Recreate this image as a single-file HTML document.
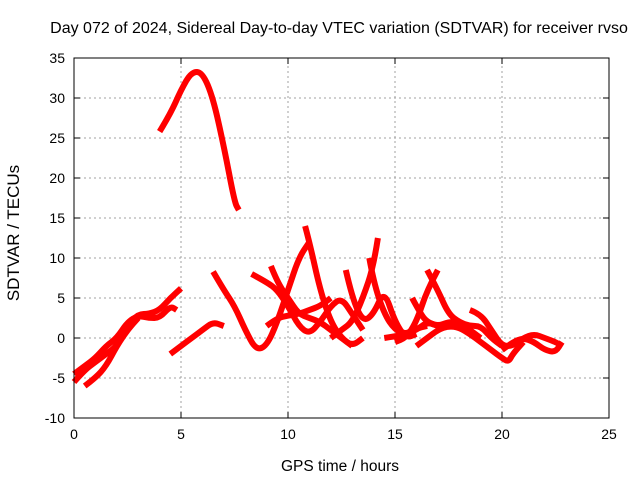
<!DOCTYPE html>
<html><head><meta charset="utf-8"><style>
body{margin:0;background:#fff;}
svg{display:block;font-family:"Liberation Sans",sans-serif;}
</style></head><body>
<svg id="chart" width="640" height="480">
<text x="339" y="33" font-size="16" text-anchor="middle" fill="#000">Day 072 of 2024, Sidereal Day-to-day VTEC variation (SDTVAR) for receiver rvso</text>
<text x="340" y="471" font-size="15.5" text-anchor="middle">GPS time / hours</text>
<text transform="translate(19,233) rotate(-90)" font-size="17" text-anchor="middle">SDTVAR / TECUs</text>
<g id="grid"></g><g id="ticks"></g><g id="series"></g>
<rect x="74" y="58" width="535" height="360" fill="none" stroke="#000" stroke-width="1"/>
</svg>
<script>
const xTicks=[0,5,10,15,20,25];
const yTicks=[-10,-5,0,5,10,15,20,25,30,35];
const track1x=[4,4.5,5,5.5,6,6.5,7,7.5,7.7];
const track1y=[25.8,28,31,33.3,33.2,30,24,17,16];
const track2x=[0,0.5,1,1.5,2,2.5,3,3.5,4,4.5,5];
const track2y=[-5.5,-4,-3,-2,-1,1.5,3,3,3.5,5,6.2];
const track3x=[0,0.5,1,1.5,2,2.5,3,3.5,4,4.5,4.8];
const track3y=[-4.5,-3.5,-2.5,-1,0,2,2.8,2.5,2.5,4,3.5];
const track4x=[0.5,1,1.5,2,2.5,3];
const track4y=[-6,-5,-3.5,-1,1,2.5];
const track5x=[4.5,5,5.5,6,6.5,7];
const track5y=[-2,-1,0,1,2,1.5];
const track6x=[6.5,7,7.5,8,8.5,9,9.5,10,10.5,11];
const track6y=[8.3,6,4,1,-1.5,-1,2,6,10,12];
const track7x=[8.3,9,9.5,10,10.5,11,11.5,12,12.5,13,13.5];
const track7y=[8,7,6,4,1.5,0.5,2,4,5,3,1];
const track8x=[9.2,9.5,10,10.5,11,11.5,12,12.5,13];
const track8y=[9,7,5,3,2.5,2,1,0,-1];
const track9x=[9,9.5,10,10.5,11,11.5,12];
const track9y=[1.5,2.5,2.8,3,3.5,4,5];
const track10x=[10.8,11,11.5,12,12.5,13,13.5];
const track10y=[14,12,6,2,0,-1,0];
const track11x=[12.7,13,13.5,14,14.5,15,15.5,16];
const track11y=[8.5,5,2,3,6,2,0,0.5];
const track12x=[14.2,14,13.5,13,12.5,12];
const track12y=[12.5,9,5,2,1,0];
const track13x=[13.8,14,14.5,15,15.5,16,16.5,17];
const track13y=[10,7,3,1,0.5,1,2,1.5];
const track14x=[16.5,17,17.5,18,18.5,19,19.5,20];
const track14y=[8.5,6,3,2,1.5,1.5,0,-1];
const track15x=[17,16.5,16,15.5,15];
const track15y=[8.5,6,2,0,-0.5];
const track16x=[15.8,16.2,16.5,17,17.5,18,18.5,19];
const track16y=[5,3,2,1.5,2,2,1,0];
const track17x=[16,16.5,17,17.5,18,18.5,19,19.5,20,20.3,20.5,21];
const track17y=[-1,0,1,1.5,1.3,0.5,-0.5,-1.5,-2.5,-3,-2,-0.5];
const track18x=[18.5,19,19.5,20,20.5,21,21.5,22,22.5,22.8];
const track18y=[3.5,3,1,-1,-1,0,0.5,0,-0.5,-1];
const track19x=[20,20.5,21,21.5,22,22.5,22.8];
const track19y=[-1.5,-0.5,0,-0.5,-1.5,-1.8,-0.5];
const track20x=[14.5,15,15.5,16,16.5];
const track20y=[0,0.2,0.5,1.2,1.5];
const tracksX=[track1x,track2x,track3x,track4x,track5x,track6x,track7x,track8x,track9x,track10x,track11x,track12x,track13x,track14x,track15x,track16x,track17x,track18x,track19x,track20x];
const tracksY=[track1y,track2y,track3y,track4y,track5y,track6y,track7y,track8y,track9y,track10y,track11y,track12y,track13y,track14y,track15y,track16y,track17y,track18y,track19y,track20y];

const NS="http://www.w3.org/2000/svg";
const X0=74,X1=609,Y0=418,Y1=58;
function sx(v){return X0+(v-0)/(25-0)*(X1-X0);}
function sy(v){return Y0-(v+10)/(45)*(Y0-Y1);}
function mk(t,a,p){const e=document.createElementNS(NS,t);for(const k in a)e.setAttribute(k,a[k]);p.appendChild(e);return e;}
const grid=document.getElementById('grid'),ticks=document.getElementById('ticks'),series=document.getElementById('series');
xTicks.forEach(t=>{
  const x=sx(t);
  if(t>0&&t<25){const g=mk('line',{x1:x,x2:x,y1:Y0,y2:Y1,stroke:'#a0a0a0','stroke-dasharray':'2,3'},grid);
  
  }
  mk('line',{x1:x,x2:x,y1:Y0,y2:Y0-6,stroke:'#000'},ticks);
  mk('line',{x1:x,x2:x,y1:Y1,y2:Y1+6,stroke:'#000'},ticks);
  const l=mk('text',{x:x,y:Y0+21,'font-size':14,'text-anchor':'middle'},ticks);l.textContent=t;
  
  
});
yTicks.forEach(t=>{
  const y=sy(t);
  if(t>-10&&t<35){const g=mk('line',{x1:X0,x2:X1,y1:y,y2:y,stroke:'#a0a0a0','stroke-dasharray':'2,3'},grid);
  
  }
  mk('line',{x1:X0,x2:X0+6,y1:y,y2:y,stroke:'#000'},ticks);
  mk('line',{x1:X1,x2:X1-6,y1:y,y2:y,stroke:'#000'},ticks);
  const l=mk('text',{x:X0-9,y:y+5,'font-size':14,'text-anchor':'end'},ticks);l.textContent=t;
  
  
});
tracksX.forEach((xs,i)=>{
  const ys=tracksY[i];
  const P=xs.map((v,j)=>[sx(v),sy(ys[j])]);
  let d='M'+P[0][0].toFixed(1)+','+P[0][1].toFixed(1);
  for(let j=1;j<P.length-1;j++){
    const mx=(P[j][0]+P[j+1][0])/2,my=(P[j][1]+P[j+1][1])/2;
    d+=' Q'+P[j][0].toFixed(1)+','+P[j][1].toFixed(1)+' '+mx.toFixed(1)+','+my.toFixed(1);
  }
  const L=P[P.length-1];d+=' L'+L[0].toFixed(1)+','+L[1].toFixed(1);
  const p=mk('path',{d:d,fill:'none',stroke:'#ff0000','stroke-width':6,'stroke-linejoin':'round','stroke-linecap':'butt'},series);
  
  
});
</script>
</body></html>
